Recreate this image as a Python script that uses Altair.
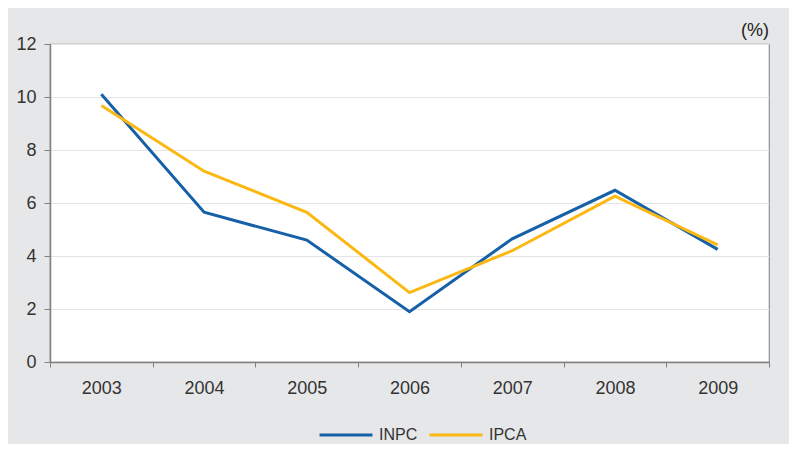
import altair as alt
import pandas as pd

years = ["2003", "2004", "2005", "2006", "2007", "2008", "2009"]
inpc = [10.1, 5.65, 4.6, 1.9, 4.65, 6.48, 4.25]
ipca = [9.68, 7.2, 5.65, 2.62, 4.2, 6.26, 4.42]
series = ["INPC", "IPCA"]
colors = ["#1660a8", "#fbb813"]
unit_label = ["(%)"]

rows = []
for name, vals in zip(series, [inpc, ipca]):
    for y, v in zip(years, vals):
        rows.append({"year": y, "value": v, "series": name})
df = pd.DataFrame(rows)

font = "Liberation Sans"

lines = alt.Chart(df).mark_line(strokeWidth=3).encode(
    x=alt.X("year:N", sort=years,
            scale=alt.Scale(type="band", paddingInner=0, paddingOuter=0),
            axis=alt.Axis(title=None, tickBand="extent", labelAngle=0, grid=False,
                          labelFontSize=18, labelColor="#333333", labelPadding=12,
                          tickSize=5, tickColor="#808080", domainColor="#808080",
                          domainWidth=1.5, labelFont=font)),
    y=alt.Y("value:Q", scale=alt.Scale(domain=[0, 12], nice=False),
            axis=alt.Axis(title=None, values=[0, 2, 4, 6, 8, 10, 12],
                          labelFontSize=18, labelColor="#333333", labelPadding=8,
                          tickSize=6, tickColor="#808080", domainColor="#808080",
                          domainWidth=1.5, gridColor="#e4e4e4", labelFont=font)),
    color=alt.Color("series:N", scale=alt.Scale(domain=series, range=colors),
                    legend=alt.Legend(title=None, orient="none", legendX=268, legendY=363,
                                      direction="horizontal", symbolType="stroke",
                                      symbolSize=2800, symbolStrokeWidth=3,
                                      labelFontSize=16, labelColor="#333333",
                                      labelFont=font, labelOffset=5, columnPadding=5)),
)

unit = alt.Chart(pd.DataFrame({"t": unit_label})).mark_text(
    align="right", baseline="alphabetic", fontSize=18, font=font, color="#222222"
).encode(text="t:N", x=alt.value(719), y=alt.value(-8))

chart = alt.layer(lines, unit).properties(
    width=719, height=318,
    background="#e6e7e8",
    padding={"left": 42, "top": 36, "right": 20, "bottom": 82},
    autosize=alt.AutoSizeParams(type="none"),
).configure_view(
    fill="white", stroke="#909090", strokeWidth=1.2
)

chart.save("out.html", embed_options={"renderer": "svg", "actions": False})
